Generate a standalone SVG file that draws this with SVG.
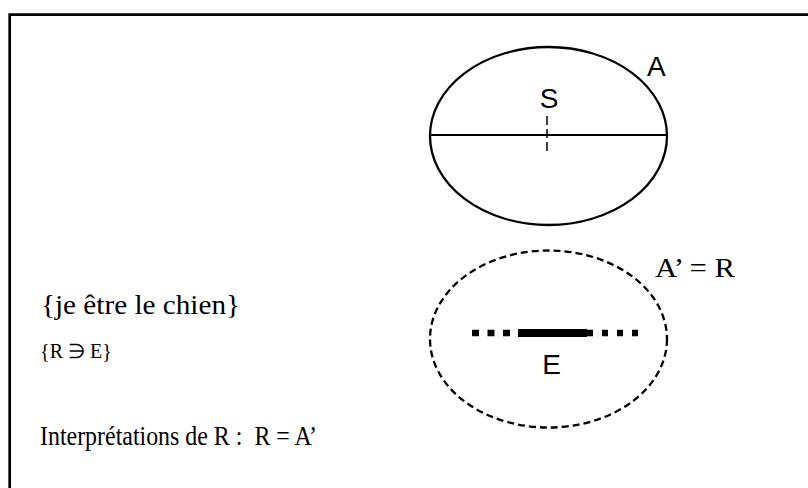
<svg xmlns="http://www.w3.org/2000/svg" width="808" height="488" viewBox="0 0 808 488">
<style>
.sans{font-family:"Liberation Sans",Arial,sans-serif;font-size:28px;fill:#000}
.serif{font-family:"Liberation Serif","Times New Roman",serif;fill:#000;white-space:pre}
.ln{fill:none;stroke:#000}
</style>
<rect width="808" height="488" fill="#fff"/>
<path class="ln" d="M9.7,500 V14.7 H820" stroke-width="2.7"/>
<g id="ellipseA">
<ellipse class="ln" cx="548.5" cy="136" rx="118.5" ry="89" stroke-width="2.3"/>
<text class="sans" x="647" y="76" font-size="26">A</text>
<text class="sans" x="549" y="108" text-anchor="middle">S</text>
</g>
<g id="ellipseR">
<ellipse class="ln" cx="548.5" cy="339" rx="118.5" ry="88.5" stroke-width="2.3" stroke-dasharray="7 4"/>
<text class="serif" x="655" y="277" font-size="27" textLength="80" lengthAdjust="spacingAndGlyphs">A’ = R</text>
<text class="sans" x="551.5" y="374" text-anchor="middle">E</text>
</g>
<g id="connectors">
<line class="ln" x1="430" y1="135" x2="667" y2="135" stroke-width="1.8"/>
<line class="ln" x1="547" y1="116" x2="547" y2="152" stroke-width="1.5" stroke-dasharray="9 4"/>
<line class="ln" x1="472" y1="333" x2="518" y2="333" stroke-width="6.5" stroke-dasharray="7 8.5"/>
<line class="ln" x1="518" y1="333" x2="587" y2="333" stroke-width="8"/>
<line class="ln" x1="587" y1="333" x2="638" y2="333" stroke-width="6.5" stroke-dasharray="6 9"/>
</g>
<g id="texts">
<text class="serif" x="41" y="314" font-size="27" textLength="199" lengthAdjust="spacingAndGlyphs">{je être le chien}</text>
<text class="serif" x="40" y="358" font-size="20" textLength="72" lengthAdjust="spacingAndGlyphs">{R ∋ E}</text>
<text class="serif" x="40" y="445" font-size="28" textLength="277" lengthAdjust="spacingAndGlyphs">Interprétations de R :  R = A’</text>
</g>
</svg>
